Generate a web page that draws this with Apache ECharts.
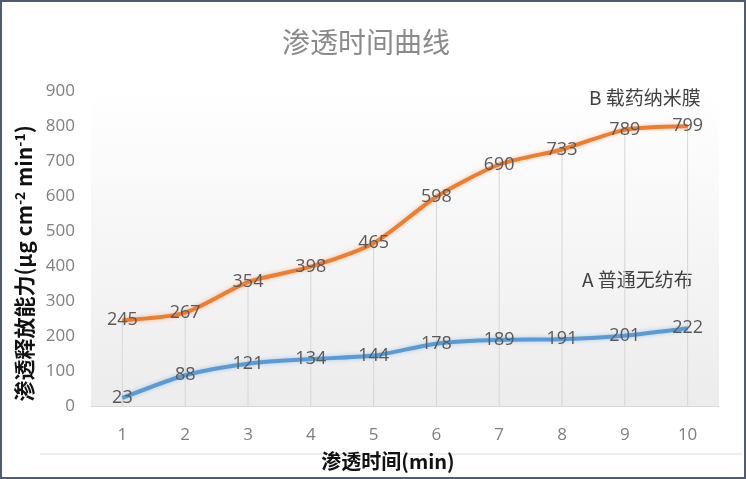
<!DOCTYPE html>
<html>
<head>
<meta charset="utf-8">
<script src="https://cdn.jsdelivr.net/npm/echarts@6/dist/echarts.min.js"></script>
<style>
html,body{margin:0;padding:0;background:#fff;}
#main{width:746px;height:479px;}
</style>
</head>
<body>
<div id="main"></div>
<script>
var categories = ['1','2','3','4','5','6','7','8','9','10'];
var seriesB = [245, 267, 354, 398, 465, 598, 690, 733, 789, 799];
var seriesA = [23, 88, 121, 134, 144, 178, 189, 191, 201, 222];
var yTicks = [0, 100, 200, 300, 400, 500, 600, 700, 800, 900];
var nameB = 'B 载药纳米膜';
var nameA = 'A 普通无纺布';

var chart = echarts.init(document.getElementById('main'), null, {renderer: 'canvas'});
var numFont = '"Liberation Sans Narrow", "Open Sans", sans-serif';
var cjk = '"Noto Sans CJK SC", sans-serif';

function lineSeries(name, data, color, glow) {
  return {
    name: name,
    type: 'line',
    data: data,
    smooth: 0.25,
    symbol: 'circle',
    symbolSize: 1,
    showSymbol: true,
    itemStyle: {color: color},
    lineStyle: {color: color, width: 4, shadowColor: glow, shadowBlur: 4},
    label: {show: true, position: 'inside', color: '#595959', fontSize: 18, fontFamily: numFont},
    z: 3
  };
}

var option = {
  backgroundColor: '#ffffff',
  animation: false,
  title: {
    text: '渗透时间曲线',
    left: 361, top: 23,
    textAlign: 'center',
    textStyle: {color: '#8a8a8a', fontSize: 28, fontWeight: 'normal', fontFamily: cjk}
  },
  grid: {
    left: 91, right: 27, top: 91, bottom: 73,
    show: true, borderWidth: 0,
    backgroundColor: new echarts.graphic.LinearGradient(0, 0, 0, 1, [
      {offset: 0, color: '#ffffff'},
      {offset: 1, color: '#ececec'}
    ])
  },
  xAxis: {
    type: 'category',
    data: categories,
    boundaryGap: true,
    axisLine: {show: true, lineStyle: {color: '#d9d9d9', width: 1}},
    axisTick: {show: false},
    splitLine: {show: false},
    axisLabel: {color: '#7f7f7f', fontSize: 17, fontFamily: numFont, margin: 21},
    name: '渗透时间(min)',
    nameLocation: 'middle',
    nameGap: 45,
    nameTextStyle: {color: '#111', fontSize: 20, fontWeight: 'bold', fontFamily: cjk, padding: [0, 34, 0, 0]}
  },
  yAxis: {
    type: 'value',
    min: yTicks[0], max: yTicks[yTicks.length - 1], interval: yTicks[1] - yTicks[0],
    axisLine: {show: false},
    axisTick: {show: false},
    splitLine: {show: false},
    axisLabel: {color: '#7f7f7f', fontSize: 17, fontFamily: numFont, margin: 16},
    name: '{m|渗透释放能力(μg cm}{s|-2}{m| min}{s|-1}{m|)}',
    nameLocation: 'middle',
    nameRotate: 90,
    nameGap: 50,
    nameTextStyle: {
      padding: [0, 30, 0, 0],
      rich: {
        m: {color: '#111', fontSize: 21, fontWeight: 'bold', fontFamily: cjk},
        s: {color: '#111', fontSize: 14, fontWeight: 'bold', fontFamily: cjk, verticalAlign: 'top', padding: [0, 0, 9, 0]}
      }
    }
  },
  series: [
    {
      type: 'bar',
      data: seriesB,
      barWidth: 1,
      itemStyle: {color: '#d6d6d6'},
      silent: true,
      z: 1
    },
    lineSeries(nameB, seriesB, '#ED7D31', 'rgba(237,125,49,0.45)'),
    lineSeries(nameA, seriesA, '#5B9BD5', 'rgba(91,155,213,0.45)')
  ],
  graphic: [
    {type: 'rect', shape: {x: 1, y: 1, width: 744, height: 477}, style: {fill: 'none', stroke: '#4e5d73', lineWidth: 2}, z: 100},
    {type: 'line', shape: {x1: 40, y1: 454, x2: 742, y2: 454}, style: {stroke: '#dddddd', lineWidth: 1}},
    {type: 'text', left: 589, top: 88, style: {text: nameB, fill: '#404040', fontSize: 19, fontFamily: cjk}},
    {type: 'text', left: 582, top: 270, style: {text: nameA, fill: '#404040', fontSize: 19, fontFamily: cjk}}
  ]
};
chart.setOption(option);
</script>
</body>
</html>
